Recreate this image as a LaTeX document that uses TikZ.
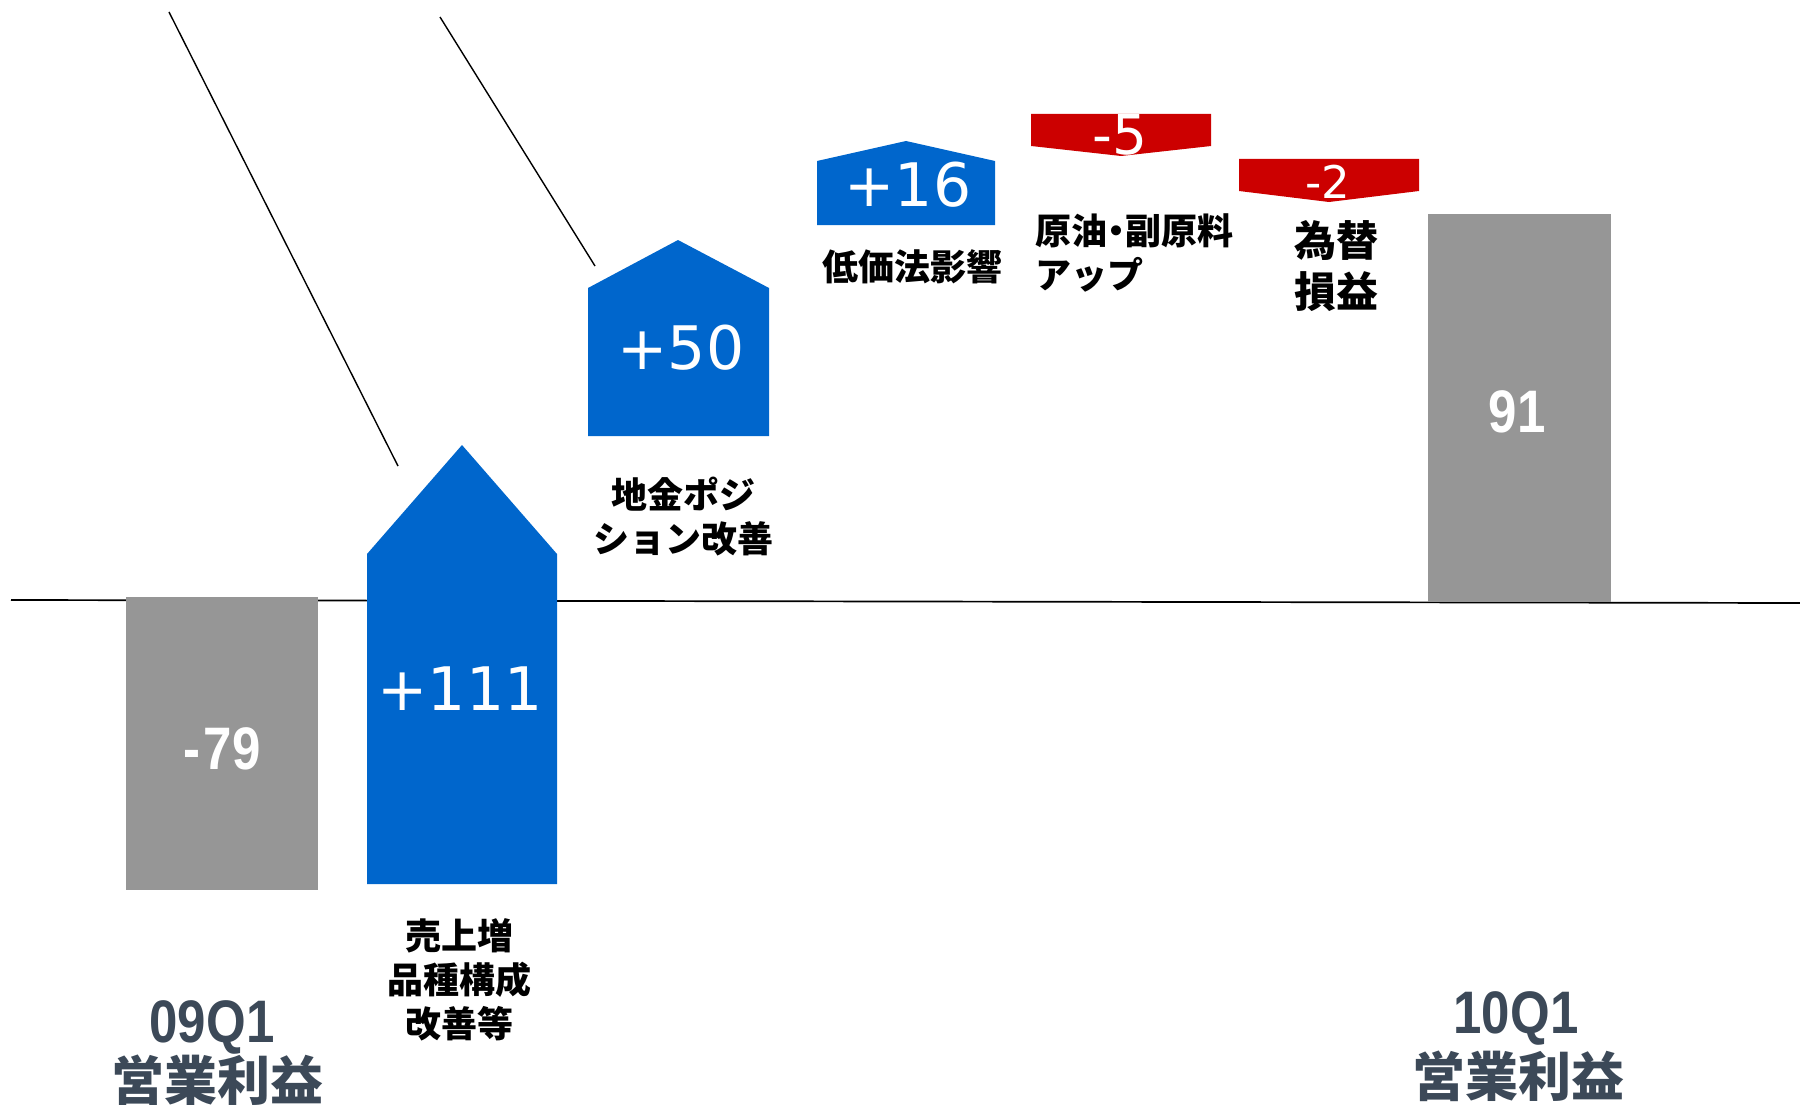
\documentclass[tikz,border=0pt]{standalone}
\usepackage{fontspec}
\newfontfamily\jp{Noto Sans CJK JP}
\newfontfamily\numlt{DejaVu Sans}
\newfontfamily\numbd{Liberation Sans}
\definecolor{barblue}{HTML}{0066CC}
\definecolor{bargray}{HTML}{969696}
\definecolor{barred}{HTML}{CC0000}
\definecolor{slate}{HTML}{3C4958}
\begin{document}
\begin{tikzpicture}[x=1pt,y=-1pt,
  lbl/.style={font=\jp\bfseries\fontsize{36}{44}\selectfont, align=center, inner sep=0pt, text=black},
  lightnum/.style={font=\numlt\fontsize{60}{60}\selectfont, text=white, inner sep=0pt, anchor=base},
  boldnum/.style={font=\numbd\bfseries\fontsize{60}{60}\selectfont, inner sep=0pt, anchor=base, xscale=0.85},
  period/.style={font=\jp\bfseries\fontsize{53}{53}\selectfont, inner sep=0pt, text=slate},
  leader/.style={draw=black, line width=1.4pt},
  axisline/.style={draw=black, line width=1.7pt}]
\useasboundingbox (0,0) rectangle (1800,1105);
% axis
\coordinate (axL) at (11,600);
\coordinate (axR) at (1800,603);
\draw[axisline] (axL) -- (axR);
% leader lines
\coordinate (l1a) at (169,12);
\coordinate (l1b) at (398,466);
\coordinate (l2a) at (440,17);
\coordinate (l2b) at (595,266);
\draw[leader] (l1a) -- (l1b);
\draw[leader] (l2a) -- (l2b);
% bars
\fill[bargray] (126,597) rectangle (318,890);
\fill[barblue] (367,884) -- (367,554) -- (462,445) -- (557,554) -- (557,884) -- cycle;
\fill[barblue] (588,436) -- (588,288) -- (678,240) -- (769,288) -- (769,436) -- cycle;
\fill[barblue] (817,225) -- (817,161) -- (906,141) -- (995,161) -- (995,225) -- cycle;
\fill[barred] (1031,114) -- (1211,114) -- (1211,146) -- (1121,156) -- (1031,146) -- cycle;
\fill[barred] (1239,159) -- (1419,159) -- (1419,191) -- (1329,202) -- (1239,191) -- cycle;
\fill[bargray] (1428,214) rectangle (1611,602);
% values
\node[boldnum, text=white] (v1) at (222,769) {-\kern4pt 79};
\node[lightnum] (v2) at (460,710) {+111};
\node[lightnum] (v3) at (681,369) {+50};
\node[lightnum] (v4) at (908,207) {+16};
\node[lightnum, font=\numlt\fontsize{55}{55}\selectfont] (v5) at (1120,155) {-5};
\node[lightnum, font=\numlt\fontsize{45}{45}\selectfont] (v6) at (1328,198) {-2};
\node[boldnum, text=white] (v7) at (1517,432) {91};
% labels
\node[lbl] (t2) at (459,980) {売上増\\品種構成\\改善等};
\node[lbl] (t3) at (683,517) {地金ポジ\\ション改善};
\node[lbl] (t4) at (912,267) {低価法影響};
\node[lbl, align=left, anchor=west] (t5) at (1035,253) {原油\kern-9pt ・\kern-9pt 副原料\\アップ};
\node[lbl, font=\jp\bfseries\fontsize{42}{51}\selectfont, anchor=west] (t6) at (1294,266) {為替\\損益};
% period labels
\node[boldnum, text=slate] (p1) at (212,1042) {09Q1};
\node[period] (p1b) at (217,1080) {営業利益};
\node[boldnum, text=slate] (p2) at (1516,1033) {10Q1};
\node[period] (p2b) at (1518,1076) {営業利益};
\end{tikzpicture}
\end{document}
